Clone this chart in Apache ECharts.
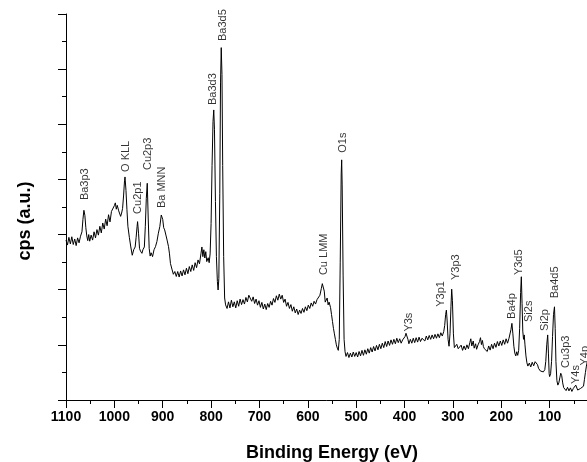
<!DOCTYPE html>
<html>
<head>
<meta charset="utf-8">
<script src="https://cdn.jsdelivr.net/npm/echarts@6/dist/echarts.min.js"></script>
<style>
html,body{margin:0;padding:0;background:#fff;}
#chartXps{width:587px;height:462px;}
</style>
</head>
<body>
<div id="chartXps"></div>
<script>
// survey spectrum, binding energy (eV) and counts (a.u.)
var energy = [
  1100,1097,1094,1091,1088,1085,1082,1079,1076,1073,1070,1067,1065,1063,1061,1059,1057,1055,1053,1051,
  1048,1045,1042,1039,1036,1033,1030,1027,1024,1021,1018,1015,1012,1009,1006,1003,1000,998,996,994,
  991,989,987,985,983,981,979,978,976,974,972,969,966,963,960,957,955,953,952,950,
  948,946,943,941,938,936,934,932,930,928,926,924,921,918,915,912,909,906,903,900,
  898,896,893,891,888,886,884,881,878,875,872,869,866,863,860,857,854,851,848,845,
  842,839,836,833,830,827,824,821,819,817,815,813,811,809,806,804,802,800,798,796,
  794.5,793,791,789,787,785.5,784,782,780.5,779,777.5,776,774,772,770,767,764,761,758,755,
  752,749,746,743,740,737,734,731,728,725,722,719,716,713,710,707,704,701,698,695,
  692,689,686,683,680,677,674,671,668,665,662,659,656,653,650,647,644,641,638,635,
  632,629,626,623,620,617,614,611,608,605,602,599,596,593,590,587,584,581,578,575,
  572,570,568,566,564,562,560,558,556,553,551,549,547,545,543,541,539,537,535,533,
  531,530,529,527,525,523,521,518,515,512,509,506,503,500,497,494,491,488,485,482,
  479,476,473,470,467,464,461,458,455,452,449,446,443,440,437,434,431,428,425,422,
  419,416,413,410,407,404,401,399,397,395,393,391,388,385,382,379,376,373,370,367,
  364,361,358,355,352,349,346,343,340,337,334,331,328,325,322,319,317,315,313.5,312,
  310,308,306,304,302.5,301,299,297,295,292,289,286,283,280,277,274,271,268,265,263,
  261,258,256,253,251,248,245,243,241,239,237,235,232,229,226,223,220,217,214,211,
  208,205,202,199,196,193,190,187,184,182,180,178,176,174,172,170,168,166,164,162,
  160,158.5,157,155.5,154,152.5,151,149,147,145,142,139,136,133,130,127,125,123,121,119,
  116,113,110,108,106,104,102.5,101,100,98,96,94,92,90,88.5,87,85,83,81,79,
  77,75,73,71,69,66,63,60,57,54,51,48,46,44,42,39,36,33,30,28,
  26,24,22
];
var counts = [
  5.80,5.62,5.90,5.66,5.92,5.64,5.84,5.60,5.88,5.70,5.94,6.10,6.55,6.88,6.70,6.25,5.95,5.78,6.00,5.76,
  5.98,5.80,6.10,5.88,6.18,5.98,6.30,6.06,6.42,6.20,6.56,6.32,6.72,6.46,6.84,6.78,7.05,7.15,6.92,7.06,
  6.86,6.92,6.66,6.78,6.95,7.40,7.95,8.09,7.60,6.90,6.30,5.90,5.55,5.25,5.45,5.55,5.90,6.30,6.47,6.05,
  5.50,5.40,5.32,5.45,5.55,6.30,7.30,7.86,6.60,5.50,5.22,5.34,5.20,5.45,5.56,5.75,6.05,6.29,6.71,6.55,
  6.25,6.17,5.95,5.80,5.56,5.30,4.95,4.75,4.56,4.66,4.48,4.66,4.46,4.68,4.50,4.72,4.54,4.78,4.58,4.84,
  4.66,4.90,4.70,4.98,4.80,5.08,4.94,5.30,5.55,5.20,5.45,5.15,5.38,5.02,5.16,4.98,5.30,6.40,8.50,10.10,
  10.52,9.80,7.20,5.20,4.30,3.99,4.40,7.50,11.50,12.78,11.80,8.50,5.20,3.70,3.45,3.32,3.56,3.34,3.62,3.38,
  3.56,3.34,3.60,3.40,3.66,3.46,3.64,3.48,3.72,3.56,3.80,3.84,3.58,3.74,3.50,3.66,3.44,3.60,3.36,3.54,
  3.30,3.48,3.28,3.50,3.36,3.58,3.44,3.68,3.54,3.78,3.62,3.84,3.66,3.80,3.54,3.66,3.40,3.54,3.32,3.46,
  3.22,3.38,3.16,3.30,3.10,3.26,3.14,3.32,3.18,3.38,3.24,3.44,3.32,3.52,3.40,3.58,3.48,3.64,3.62,3.80,
  4.05,4.22,4.29,3.95,3.55,3.51,3.70,3.45,3.55,3.35,3.10,2.85,2.60,2.40,2.20,2.00,1.88,1.80,2.20,5.00,
  8.20,8.71,7.80,4.50,2.20,1.75,1.58,1.72,1.54,1.70,1.56,1.74,1.58,1.72,1.56,1.76,1.60,1.80,1.62,1.82,
  1.66,1.86,1.70,1.90,1.74,1.94,1.78,1.98,1.82,2.02,1.86,2.06,1.90,2.12,1.94,2.14,1.98,2.18,2.02,2.20,
  2.04,2.24,2.08,2.22,2.06,2.18,2.24,2.30,2.42,2.35,2.20,2.04,2.20,2.06,2.24,2.08,2.26,2.10,2.28,2.12,
  2.24,2.30,2.14,2.32,2.18,2.34,2.20,2.36,2.22,2.38,2.24,2.40,2.26,2.44,2.32,2.48,2.70,3.10,3.26,2.90,
  2.20,1.95,2.40,3.40,4.02,3.60,2.40,1.90,1.84,2.02,1.86,1.82,1.99,1.80,1.96,1.82,2.00,1.86,2.08,2.22,
  1.96,2.14,1.88,2.04,1.84,2.00,2.12,2.26,2.01,2.16,1.94,1.86,1.81,1.76,1.96,1.81,2.02,1.86,2.06,1.91,
  2.12,1.96,2.14,1.98,2.18,2.02,2.22,2.06,2.24,2.30,2.55,2.78,2.40,1.95,1.70,1.60,1.75,1.62,1.80,2.60,
  3.90,4.47,3.50,2.50,2.20,2.36,2.00,1.60,1.35,1.23,1.34,1.20,1.37,1.24,1.39,1.38,1.28,1.15,1.09,1.05,
  0.98,1.02,1.10,1.40,2.00,2.36,1.70,0.95,0.85,0.95,1.40,2.30,3.10,3.38,2.60,1.40,0.70,0.54,0.62,0.80,
  0.97,0.88,0.62,0.45,0.40,0.34,0.46,0.33,0.44,0.31,0.42,0.45,0.54,0.48,0.36,0.33,0.42,0.36,0.50,0.75,
  1.00,1.23,1.40
];

// peak labels: name, energy and level of the label foot
var peakNames  = ['Ba3p3','O KLL','Cu2p1','Cu2p3','Ba MNN','Ba3d3','Ba3d5','Cu LMM','O1s','Y3s',
                  'Y3p1','Y3p3','Ba4p','Y3d5','Si2s','Si2p','Ba4d5','Cu3p3','Y4s','Y4p'];
var peakEnergy = [1060.7,976,951.2,930.6,901.7,796.9,776.2,567,527,391.3,
                  323.8,294.2,178.5,163.4,143.4,110.4,88.3,67,46.3,27.7];
var peakLevel  = [7.25,8.27,6.75,8.34,6.96,10.70,13.02,4.53,8.97,2.48,
                  3.38,4.35,2.94,4.53,2.83,2.50,3.69,1.16,0.58,1.25];

var xTicks = {min:0, max:1100, step:100};
var yTicks = {min:0, max:14, step:2};

var lineData = energy.map(function(e,i){ return [e, counts[i]]; });
var labelData = peakNames.map(function(n,i){ return {name:n, value:[peakEnergy[i], peakLevel[i]]}; });

var myChart = echarts.init(document.getElementById('chartXps'));
var fontName = '"Liberation Sans", Arial, sans-serif';
var option = {
    animation: false,
    backgroundColor: '#fff',
    grid: {
        left: 66,
        top: 14,
        width: 532,
        height: 386,
        containLabel: false,
        outerBoundsMode: 'none'
    },
    xAxis: {
        type: 'value',
        inverse: true,
        min: xTicks.min,
        max: xTicks.max,
        interval: xTicks.step,
        name: 'Binding Energy (eV)',
        nameLocation: 'middle',
        nameGap: 44,
        nameTextStyle: {
            color: '#000',
            fontFamily: fontName,
            fontWeight: 'bold',
            fontSize: 18
        },
        axisLine: { show: true, onZero: false, lineStyle: { color: '#000', width: 1 } },
        axisTick: { show: true, inside: false, length: 8, lineStyle: { color: '#000' } },
        minorTick: { show: true, splitNumber: 2, length: 4, lineStyle: { color: '#000' } },
        axisLabel: {
            color: '#000',
            fontFamily: fontName,
            fontWeight: 'bold',
            fontSize: 14,
            margin: 10,
            formatter: function (v) { return String(v); }
        },
        splitLine: { show: false }
    },
    yAxis: {
        type: 'value',
        position: 'left',
        min: yTicks.min,
        max: yTicks.max,
        interval: yTicks.step,
        name: 'cps (a.u.)',
        nameLocation: 'middle',
        nameGap: 32,
        nameTextStyle: {
            color: '#000',
            fontFamily: fontName,
            fontWeight: 'bold',
            fontSize: 18,
            padding: [0, 28, 0, 0]
        },
        axisLine: { show: true, onZero: false, lineStyle: { color: '#000', width: 1 } },
        axisTick: { show: true, inside: false, length: 8, lineStyle: { color: '#000' } },
        minorTick: { show: true, splitNumber: 2, length: 4, lineStyle: { color: '#000' } },
        axisLabel: { show: false },
        splitLine: { show: false }
    },
    series: [
        {
            name: 'spectrum',
            type: 'line',
            data: lineData,
            showSymbol: false,
            symbol: 'none',
            lineStyle: { color: '#000', width: 1 },
            silent: true
        },
        {
            name: 'peaks',
            type: 'scatter',
            data: labelData,
            symbolSize: 0,
            silent: true,
            label: {
                show: true,
                formatter: '{b}',
                position: [0, 0],
                rotate: 90,
                align: 'left',
                verticalAlign: 'middle',
                color: '#000',
                fontFamily: fontName,
                fontSize: 11
            }
        }
    ]
};
myChart.setOption(option);
</script>
</body>
</html>
